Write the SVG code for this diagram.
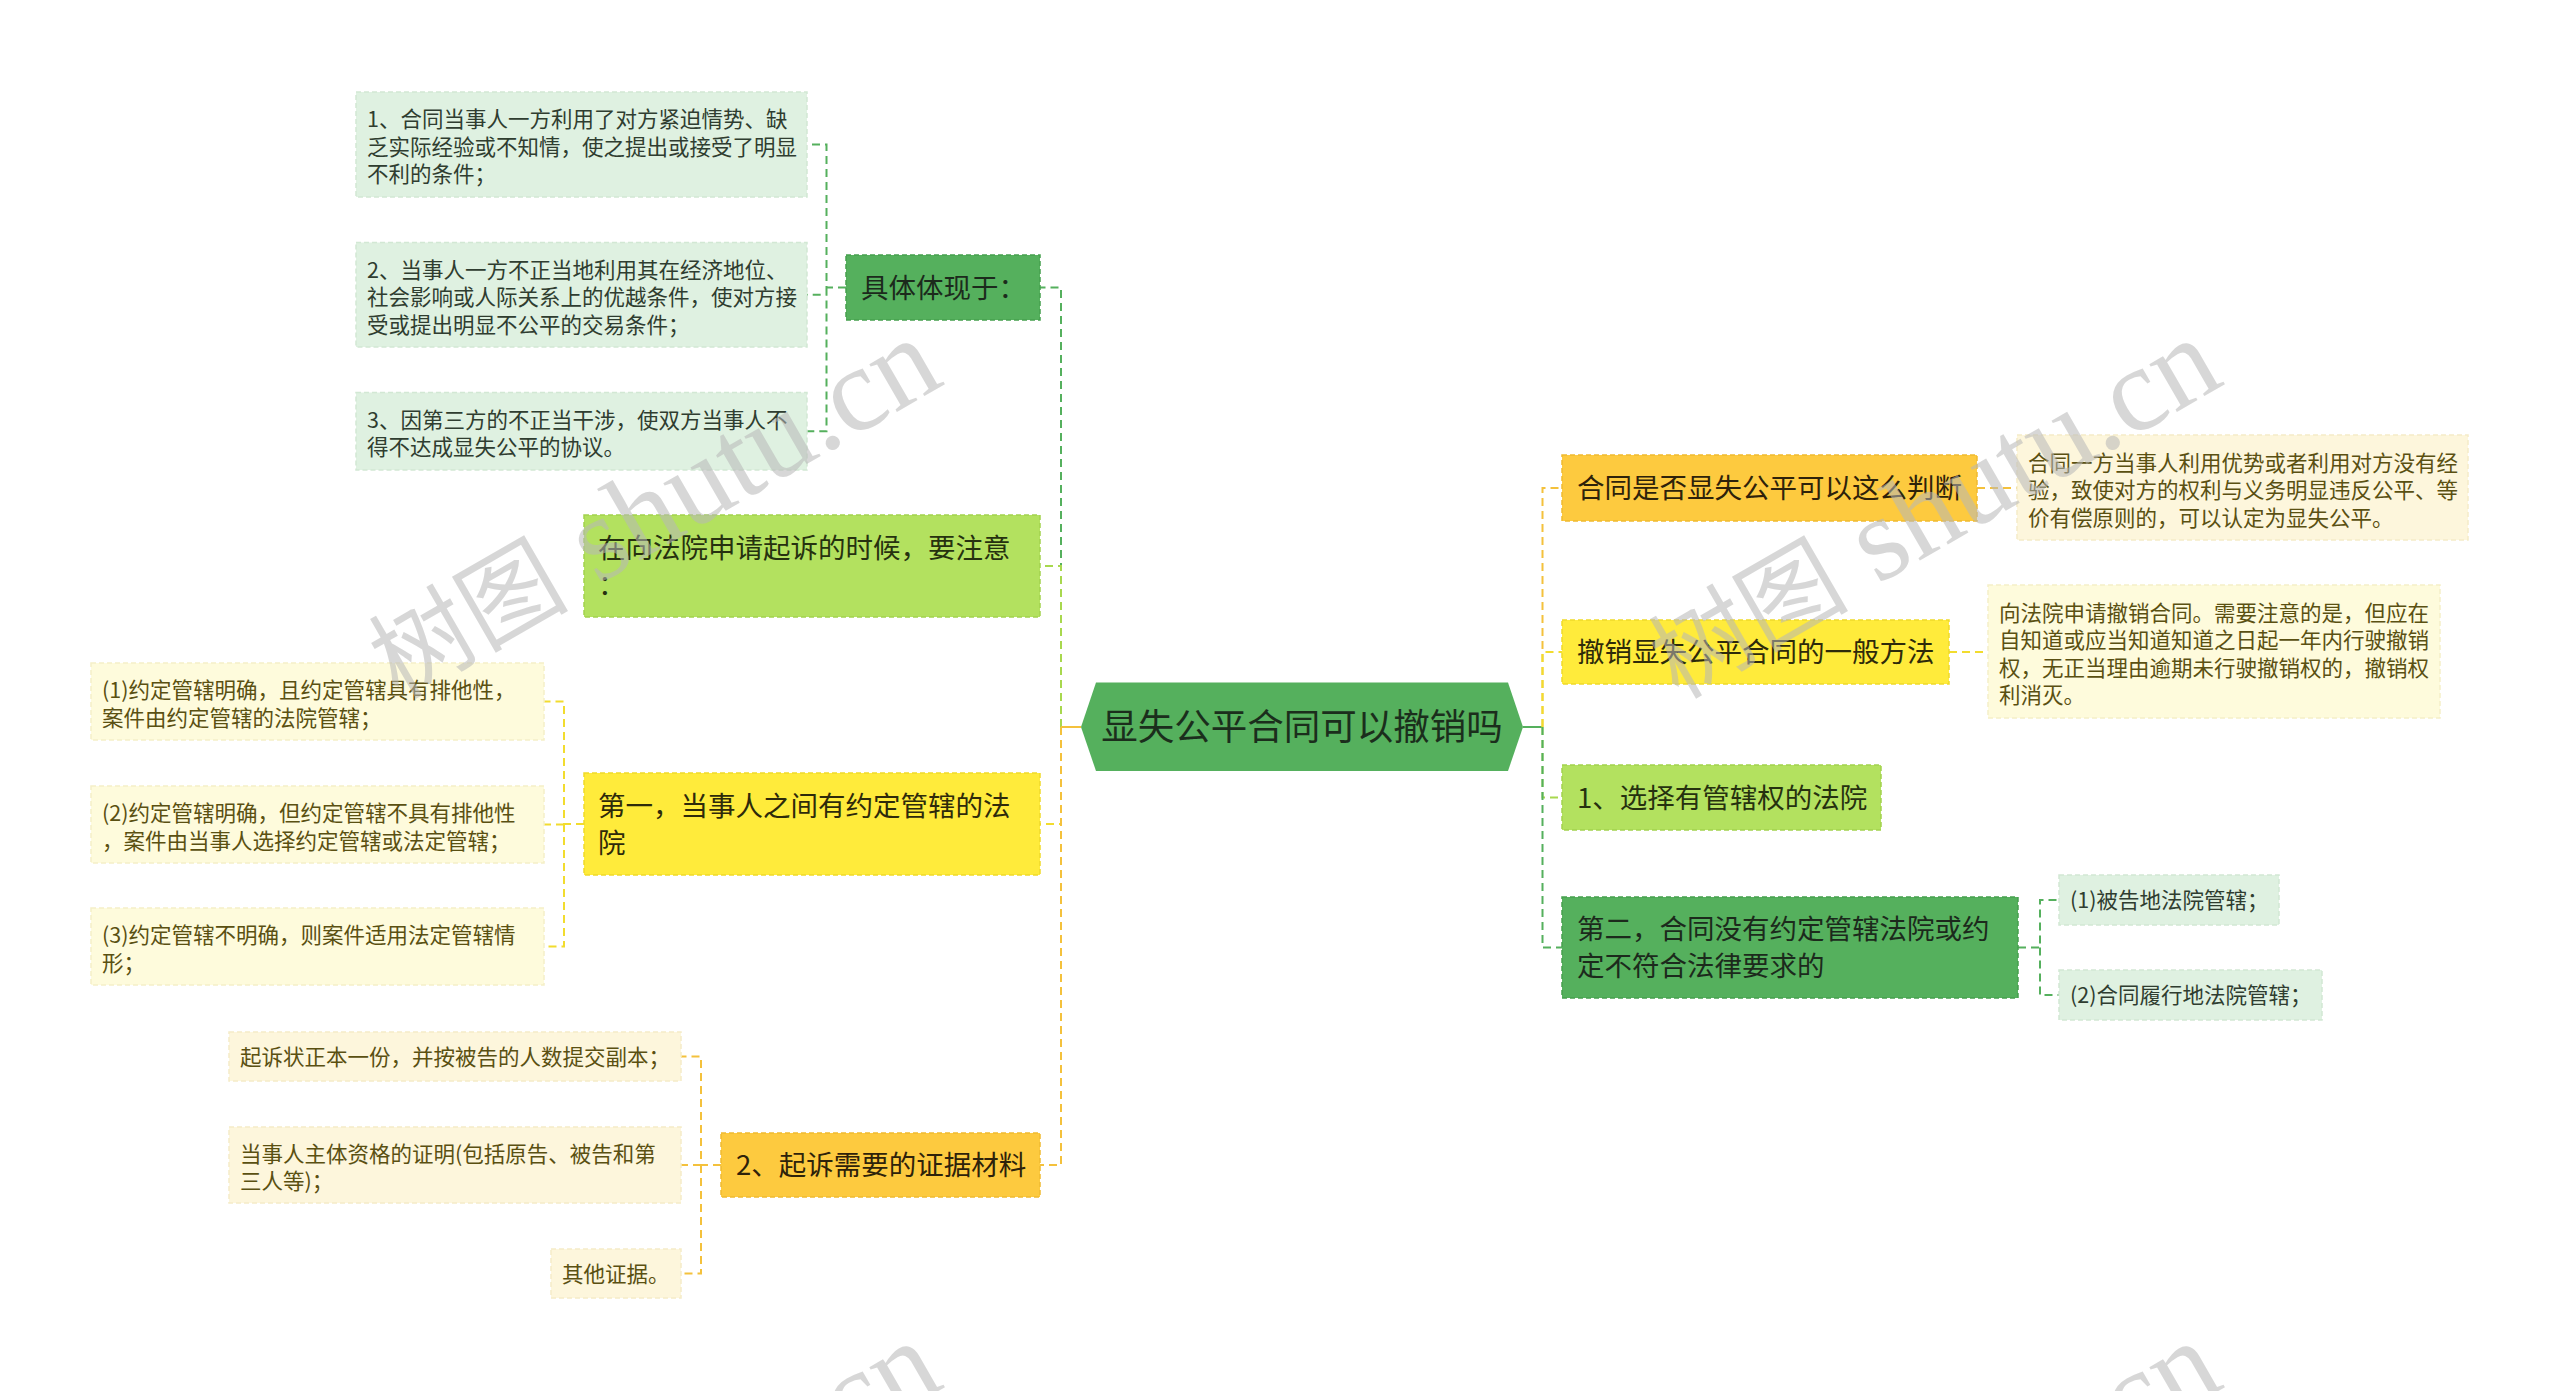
<svg xmlns="http://www.w3.org/2000/svg" width="2560" height="1391" viewBox="0 0 2560 1391">
<style>
text{font-family:"Noto Sans CJK SC","Noto Sans",sans-serif;}
.t0{font-size:36.5px;fill:#1b2e1c;}
.t1{font-size:27.5px;}
.t2{font-size:21.5px;}
.g1{fill:#55b05d;stroke:#45a04d;stroke-width:1.5;stroke-dasharray:5 3;}
.lg1{fill:#b3e15f;stroke:#a2d24e;stroke-width:1.5;stroke-dasharray:5 3;}
.y1{fill:#ffeb3b;stroke:#f0da2a;stroke-width:1.5;stroke-dasharray:5 3;}
.o1{fill:#fdca3f;stroke:#efba30;stroke-width:1.5;stroke-dasharray:5 3;}
.gl{fill:#dff1e1;stroke:#d2e8d4;stroke-width:1.5;stroke-dasharray:5 3;}
.yl{fill:#fefbdc;stroke:#f5f0c8;stroke-width:1.5;stroke-dasharray:5 3;}
.ol{fill:#fdf6dc;stroke:#f5ecc8;stroke-width:1.5;stroke-dasharray:5 3;}
.tg1{fill:#1c2a1c;}
.tlg1{fill:#26310f;}
.ty1{fill:#2e2a0a;}
.to1{fill:#2e220a;}
.tgl{fill:#2f3d30;}
.tyl{fill:#5a5012;}
.c{fill:none;stroke-width:2;stroke-dasharray:8 5;}
.s{fill:none;stroke-width:2;}
.cg{stroke:#55b05d;}
.clg{stroke:#a8d84e;}
.cy{stroke:#f2dc2e;}
.co{stroke:#f4c13c;}
.wm{font-family:"Liberation Serif","Noto Sans CJK SC",serif;font-size:120px;fill:#b8b8b8;opacity:0.55;}
.wmc{font-size:100px;}
</style>
<rect width="2560" height="1391" fill="#ffffff"/>

<g id="connectors">
  <path class="c cg" d="M1061 727 V287.5 H1040"/>
  <path class="c clg" d="M1061 727 V566 H1040"/>
  <path class="c cy" d="M1061 727 V824 H1040"/>
  <path class="c co" d="M1061 727 V1165 H1040"/>
  <path class="s co" d="M1081 727 H1061"/>
  <path class="c cg" d="M846 287.5 H826.5 V144.5 H807 M826.5 287.5 V294.7 H807 M826.5 287.5 V431.3 H807"/>
  <path class="c cy" d="M584 824 H564 V701.5 H544 M564 824.5 H544 M564 824 V946.5 H544"/>
  <path class="c co" d="M721 1165 H701 V1056.5 H681 M701 1165 H681 M701 1165 V1273.5 H681"/>
  <path class="s cg" d="M1523 727 H1542.5"/>
  <path class="c co" d="M1542.5 727 V488 H1562"/>
  <path class="c cy" d="M1542.5 727 V652 H1562"/>
  <path class="c clg" d="M1542.5 727 V797.5 H1562"/>
  <path class="c cg" d="M1542.5 727 V947.5 H1562"/>
  <path class="c co" d="M1977 488 H2017"/>
  <path class="c cy" d="M1949 652 H1988"/>
  <path class="c cg" d="M2018 947.5 H2040 V900 H2059 M2040 947.5 V995 H2059"/>
</g>

<g id="center">
  <polygon points="1096,682.5 1508,682.5 1523,727 1508,771 1096,771 1081,727" fill="#55b05d"/>
  <text class="t0" x="1302" y="740" text-anchor="middle">显失公平合同可以撤销吗</text>
</g>

<g id="n-tixian">
  <rect class="g1" x="846" y="255" width="194" height="65"/>
  <text class="t1 tg1" x="861" y="297.5">具体体现于：</text>
</g>
<g id="n-tixian-1">
  <rect class="gl" x="356" y="92" width="451" height="105"/>
  <text class="t2 tgl" x="367" y="127">1、合同当事人一方利用了对方紧迫情势、缺</text>
  <text class="t2 tgl" x="367" y="154.5">乏实际经验或不知情，使之提出或接受了明显</text>
  <text class="t2 tgl" x="367" y="182">不利的条件；</text>
</g>
<g id="n-tixian-2">
  <rect class="gl" x="356" y="242.5" width="451" height="104.5"/>
  <text class="t2 tgl" x="367" y="277.5">2、当事人一方不正当地利用其在经济地位、</text>
  <text class="t2 tgl" x="367" y="305">社会影响或人际关系上的优越条件，使对方接</text>
  <text class="t2 tgl" x="367" y="332.5">受或提出明显不公平的交易条件；</text>
</g>
<g id="n-tixian-3">
  <rect class="gl" x="356" y="392.5" width="451" height="77.5"/>
  <text class="t2 tgl" x="367" y="427.5">3、因第三方的不正当干涉，使双方当事人不</text>
  <text class="t2 tgl" x="367" y="455">得不达成显失公平的协议。</text>
</g>

<g id="n-zhuyi">
  <rect class="lg1" x="584" y="515" width="456" height="102"/>
  <text class="t1 tlg1" x="598" y="558">在向法院申请起诉的时候，要注意</text>
  <text class="t1 tlg1" x="598" y="595">：</text>
</g>

<g id="n-diyi">
  <rect class="y1" x="584" y="773" width="456" height="102"/>
  <text class="t1 ty1" x="598" y="816">第一，当事人之间有约定管辖的法</text>
  <text class="t1 ty1" x="598" y="853">院</text>
</g>
<g id="n-diyi-1">
  <rect class="yl" x="91" y="663" width="453" height="77"/>
  <text class="t2 tyl" x="102" y="698">(1)约定管辖明确，且约定管辖具有排他性，</text>
  <text class="t2 tyl" x="102" y="725.5">案件由约定管辖的法院管辖；</text>
</g>
<g id="n-diyi-2">
  <rect class="yl" x="91" y="786" width="453" height="77"/>
  <text class="t2 tyl" x="102" y="821">(2)约定管辖明确，但约定管辖不具有排他性</text>
  <text class="t2 tyl" x="102" y="848.5">，案件由当事人选择约定管辖或法定管辖；</text>
</g>
<g id="n-diyi-3">
  <rect class="yl" x="91" y="908" width="453" height="77"/>
  <text class="t2 tyl" x="102" y="943">(3)约定管辖不明确，则案件适用法定管辖情</text>
  <text class="t2 tyl" x="102" y="970.5">形；</text>
</g>

<g id="n-zhengju">
  <rect class="o1" x="721" y="1133" width="319" height="64"/>
  <text class="t1 to1" x="736" y="1175">2、起诉需要的证据材料</text>
</g>
<g id="n-zhengju-1">
  <rect class="ol" x="229" y="1032" width="452" height="49"/>
  <text class="t2 tyl" x="240" y="1064.5">起诉状正本一份，并按被告的人数提交副本；</text>
</g>
<g id="n-zhengju-2">
  <rect class="ol" x="229" y="1127" width="452" height="76"/>
  <text class="t2 tyl" x="240" y="1161.5">当事人主体资格的证明(包括原告、被告和第</text>
  <text class="t2 tyl" x="240" y="1189">三人等)；</text>
</g>
<g id="n-zhengju-3">
  <rect class="ol" x="551" y="1249" width="130" height="49"/>
  <text class="t2 tyl" x="562" y="1281.5">其他证据。</text>
</g>

<g id="n-panduan">
  <rect class="o1" x="1562" y="455" width="415" height="66"/>
  <text class="t1 to1" x="1577" y="498">合同是否显失公平可以这么判断</text>
</g>
<g id="n-panduan-1">
  <rect class="ol" x="2017" y="435" width="451" height="105"/>
  <text class="t2 tyl" x="2028" y="470.5">合同一方当事人利用优势或者利用对方没有经</text>
  <text class="t2 tyl" x="2028" y="498">验，致使对方的权利与义务明显违反公平、等</text>
  <text class="t2 tyl" x="2028" y="525.5">价有偿原则的，可以认定为显失公平。</text>
</g>

<g id="n-fangfa">
  <rect class="y1" x="1562" y="620" width="387" height="64"/>
  <text class="t1 ty1" x="1577" y="662">撤销显失公平合同的一般方法</text>
</g>
<g id="n-fangfa-1">
  <rect class="yl" x="1988" y="585" width="452" height="133"/>
  <text class="t2 tyl" x="1999" y="620.5">向法院申请撤销合同。需要注意的是，但应在</text>
  <text class="t2 tyl" x="1999" y="648">自知道或应当知道知道之日起一年内行驶撤销</text>
  <text class="t2 tyl" x="1999" y="675.5">权，无正当理由逾期未行驶撤销权的，撤销权</text>
  <text class="t2 tyl" x="1999" y="703">利消灭。</text>
</g>

<g id="n-xuanze">
  <rect class="lg1" x="1562" y="765" width="319" height="65"/>
  <text class="t1 tlg1" x="1577" y="807.5">1、选择有管辖权的法院</text>
</g>

<g id="n-dier">
  <rect class="g1" x="1562" y="897" width="456" height="101"/>
  <text class="t1 tg1" x="1577" y="939">第二，合同没有约定管辖法院或约</text>
  <text class="t1 tg1" x="1577" y="976">定不符合法律要求的</text>
</g>
<g id="n-dier-1">
  <rect class="gl" x="2059" y="875" width="220" height="50"/>
  <text class="t2 tgl" x="2070" y="908">(1)被告地法院管辖；</text>
</g>
<g id="n-dier-2">
  <rect class="gl" x="2059" y="970" width="263" height="50"/>
  <text class="t2 tgl" x="2070" y="1003">(2)合同履行地法院管辖；</text>
</g>

<g id="watermark">
  <text class="wm" transform="translate(398,700) rotate(-30)"><tspan class="wmc">树图</tspan> shutu.cn</text>
  <text class="wm" transform="translate(1678,700) rotate(-30)"><tspan class="wmc">树图</tspan> shutu.cn</text>
  <text class="wm" transform="translate(398,1703) rotate(-30)"><tspan class="wmc">树图</tspan> shutu.cn</text>
  <text class="wm" transform="translate(1678,1703) rotate(-30)"><tspan class="wmc">树图</tspan> shutu.cn</text>
</g>
</svg>
